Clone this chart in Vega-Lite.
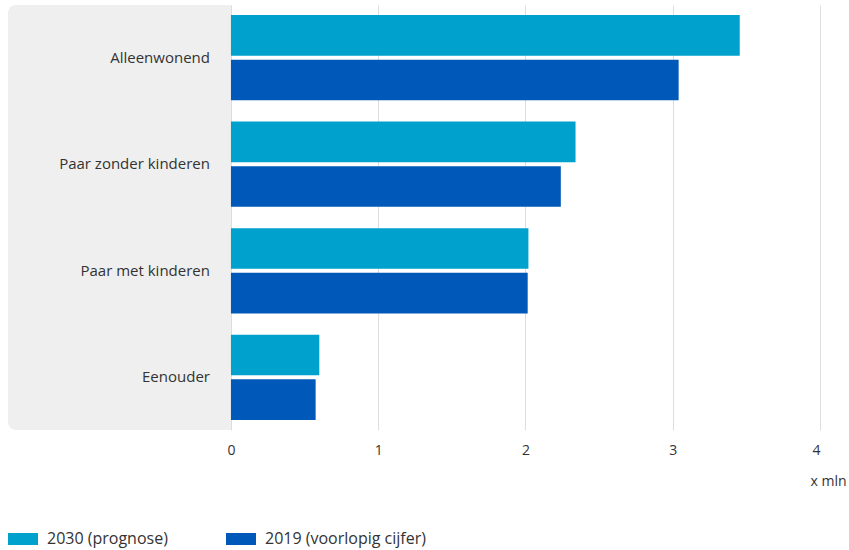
{
  "$schema": "https://vega.github.io/schema/vega-lite/v6.json",
  "width": 812,
  "height": 425,
  "autosize": {"type": "none"},
  "padding": {"left": 8, "top": 5, "right": 29, "bottom": 120},
  "config": {
    "view": {"stroke": null},
    "font": "Open Sans",
    "axis": {"labelFont": "Open Sans", "titleFont": "Open Sans"},
    "legend": {"labelFont": "Open Sans"}
  },
  "datasets": {
    "bars": [
      {"category": "Alleenwonend", "series": "2030 (prognose)", "value": 3.455},
      {"category": "Alleenwonend", "series": "2019 (voorlopig cijfer)", "value": 3.04},
      {"category": "Paar zonder kinderen", "series": "2030 (prognose)", "value": 2.34},
      {"category": "Paar zonder kinderen", "series": "2019 (voorlopig cijfer)", "value": 2.24},
      {"category": "Paar met kinderen", "series": "2030 (prognose)", "value": 2.02},
      {"category": "Paar met kinderen", "series": "2019 (voorlopig cijfer)", "value": 2.015},
      {"category": "Eenouder", "series": "2030 (prognose)", "value": 0.60},
      {"category": "Eenouder", "series": "2019 (voorlopig cijfer)", "value": 0.575}
    ],
    "panel": [{"start": -1.514, "end": 0}]
  },
  "layer": [
    {
      "data": {"name": "panel"},
      "mark": {"type": "rect", "fill": "#efefef", "cornerRadiusTopLeft": 8, "cornerRadiusBottomLeft": 8},
      "encoding": {
        "x": {"field": "start", "type": "quantitative", "scale": {"domain": [-1.514, 4], "nice": false, "zero": false},
              "axis": {"values": [0, 1, 2, 3, 4], "format": "d", "title": "x mln", "domain": false, "ticks": false,
                       "grid": true, "gridColor": "#dddddd", "gridWidth": 1,
                       "labelFontSize": 14, "labelColor": "#333333", "labelPadding": 13,
                       "titleFontSize": 14, "titleFontWeight": "normal", "titleColor": "#333333",
                       "titleX": 820, "titleY": 44, "titleAlign": "center"}},
        "x2": {"field": "end"}
      }
    },
    {
      "data": {"name": "bars"},
      "mark": {"type": "bar"},
      "encoding": {
        "y": {"field": "category", "type": "nominal",
              "sort": ["Alleenwonend", "Paar zonder kinderen", "Paar met kinderen", "Eenouder"],
              "scale": {"paddingInner": 0.2, "paddingOuter": 0.094}, "axis": null},
        "yOffset": {"field": "series", "type": "nominal",
                    "sort": ["2030 (prognose)", "2019 (voorlopig cijfer)"],
                    "scale": {"paddingInner": 0.09}},
        "x": {"field": "value", "type": "quantitative"},
        "color": {"field": "series", "type": "nominal",
                  "sort": ["2030 (prognose)", "2019 (voorlopig cijfer)"],
                  "scale": {"domain": ["2030 (prognose)", "2019 (voorlopig cijfer)"], "range": ["#00a1cd", "#0058b8"]},
                  "legend": {"title": null, "orient": "none", "legendX": 0, "legendY": 519, "direction": "horizontal",
                             "symbolType": "M-1,-0.4H1V0.4H-1Z", "symbolSize": 900, "symbolStrokeWidth": 0,
                             "labelFontSize": 16, "labelColor": "#333333", "labelOffset": 9, "columnPadding": 58,
                             "labelLimit": 400, "symbolOffset": 0, "padding": 0}}
      }
    },
    {
      "data": {"name": "bars"},
      "transform": [{"filter": "datum.series === '2030 (prognose)'"}],
      "mark": {"type": "text", "align": "right", "baseline": "middle", "dx": -21, "fontSize": 15, "color": "#333333"},
      "encoding": {
        "y": {"field": "category", "type": "nominal",
              "sort": ["Alleenwonend", "Paar zonder kinderen", "Paar met kinderen", "Eenouder"]},
        "x": {"datum": 0},
        "text": {"field": "category"}
      }
    },
    {
      "mark": {"type": "rule", "color": "#666666", "strokeWidth": 2},
      "encoding": {"x": {"datum": 0}}
    }
  ]
}
